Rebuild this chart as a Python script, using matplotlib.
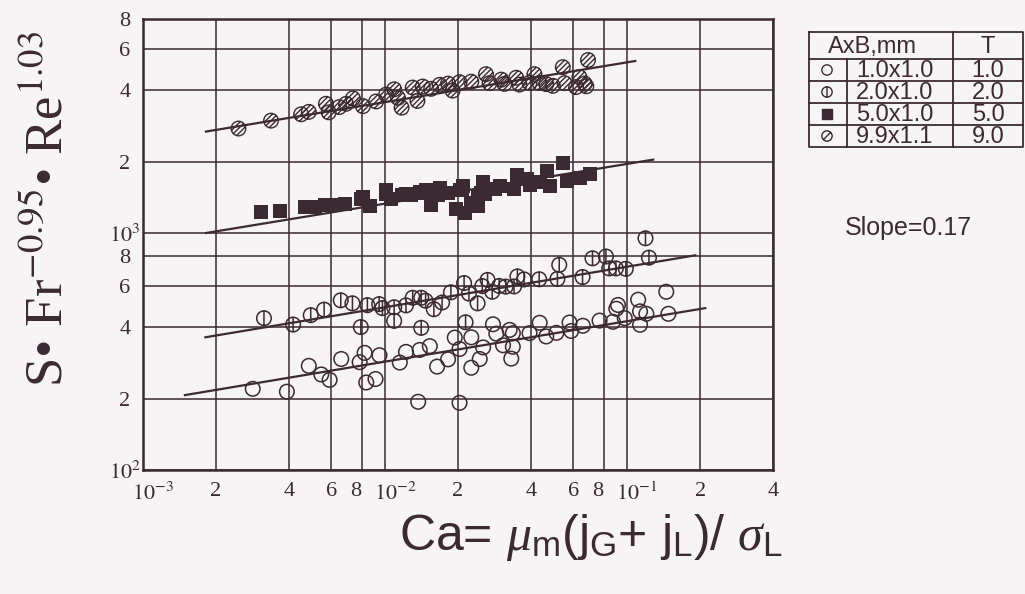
import matplotlib
matplotlib.use('Agg')
import matplotlib.pyplot as plt
from matplotlib.path import Path
from matplotlib.transforms import ScaledTranslation
from matplotlib.ticker import FixedLocator, FixedFormatter, NullLocator

plt.rcParams['font.family'] = ['Liberation Serif', 'DejaVu Serif']
plt.rcParams['mathtext.fontset'] = 'stix'
# used only by the x label (math_fontfamily='custom')
plt.rcParams['mathtext.rm'] = 'Liberation Sans'
plt.rcParams['mathtext.it'] = 'Liberation Serif:italic'

ink = '#3b2a31'
paper = '#f6f4f5'

# --- data --------------------------------------------------------------
# 1.0x1.0, open circles
x1 = [2.84e-3, 3.93e-3, 4.84e-3, 5.45e-3, 5.90e-3, 6.59e-3, 7.85e-3, 8.23e-3, 8.36e-3, 9.13e-3,
      9.48e-3, 1.15e-2, 1.22e-2, 1.37e-2, 1.39e-2, 1.53e-2, 1.64e-2, 1.82e-2, 1.94e-2, 2.03e-2,
      2.03e-2, 2.27e-2, 2.27e-2, 2.46e-2, 2.54e-2, 2.79e-2, 2.88e-2, 3.07e-2, 3.27e-2, 3.37e-2,
      3.32e-2, 3.37e-2, 3.95e-2, 4.35e-2, 4.63e-2, 5.10e-2, 5.78e-2, 5.87e-2, 6.56e-2, 7.69e-2,
      8.73e-2, 9.16e-2, 9.77e-2, 0.111, 0.113, 0.113, 0.145, 0.148, 0.120, 0.0902]
y1 = [220, 214, 275, 253, 240, 294, 285, 312, 234, 242,
      305, 284, 315, 194, 321, 333, 273, 293, 362, 324,
      192, 270, 363, 294, 329, 412, 376, 336, 390, 378,
      295, 331, 378, 418, 366, 379, 419, 386, 406, 427,
      422, 497, 437, 523, 467, 410, 565, 456, 456, 479]

# 2.0x1.0, circles with a vertical bar
x2 = [3.16e-3, 4.17e-3, 4.93e-3, 5.60e-3, 6.56e-3, 7.33e-3, 7.94e-3, 8.45e-3, 9.45e-3, 9.75e-3,
      1.09e-2, 1.09e-2, 1.22e-2, 1.30e-2, 1.41e-2, 1.47e-2, 1.59e-2, 1.72e-2, 1.87e-2, 2.12e-2,
      2.15e-2, 2.22e-2, 2.41e-2, 2.52e-2, 2.65e-2, 2.77e-2, 2.96e-2, 3.15e-2, 3.41e-2, 3.52e-2,
      3.75e-2, 4.33e-2, 5.15e-2, 5.24e-2, 6.54e-2, 7.19e-2, 8.17e-2, 8.43e-2, 8.98e-2, 9.87e-2,
      0.119, 0.123, 1.41e-2]
y2 = [437, 411, 450, 475, 520, 505, 401, 496, 501, 482,
      486, 426, 495, 533, 533, 518, 477, 509, 562, 615,
      420, 555, 505, 597, 634, 565, 598, 594, 595, 656,
      637, 638, 640, 734, 652, 782, 796, 709, 709, 706,
      950, 787, 398]

# 5.0x1.0, filled squares
x3 = [3.08e-3, 3.67e-3, 4.66e-3, 5.12e-3, 5.62e-3, 6.19e-3, 6.81e-3, 7.98e-3, 8.65e-3, 1.01e-2,
      1.06e-2, 1.17e-2, 1.28e-2, 1.46e-2, 1.55e-2, 1.66e-2, 1.82e-2, 2.07e-2, 2.13e-2, 2.27e-2,
      2.42e-2, 2.58e-2, 2.84e-2, 5.44e-2, 7.01e-2, 5.62e-2, 3.85e-2, 3.97e-2, 3.50e-2, 2.54e-2,
      2.10e-2, 1.68e-2, 1.48e-2, 1.22e-2, 1.01e-2, 8.09e-3, 4.36e-2, 6.41e-2, 2.48e-2, 2.99e-2,
      3.40e-2, 4.67e-2, 4.82e-2, 2.04e-2, 1.39e-2, 1.97e-2, 2.42e-2]
y3 = [1232, 1233, 1291, 1290, 1309, 1318, 1327, 1389, 1300, 1465,
      1393, 1442, 1443, 1471, 1312, 1447, 1476, 1524, 1214, 1340,
      1432, 1462, 1530, 1977, 1766, 1652, 1698, 1590, 1750, 1634,
      1580, 1549, 1521, 1468, 1514, 1415, 1648, 1706, 1482, 1585,
      1538, 1820, 1585, 1514, 1493, 1259, 1300]

# 9.9x1.1, hatched circles
x4 = [2.48e-3, 3.38e-3, 4.50e-3, 4.84e-3, 5.70e-3, 5.85e-3, 6.47e-3, 6.90e-3, 7.36e-3, 8.10e-3,
      9.18e-3, 1.01e-2, 1.09e-2, 1.13e-2, 1.17e-2, 1.30e-2, 1.36e-2, 1.43e-2, 1.55e-2, 1.68e-2,
      1.82e-2, 1.90e-2, 2.03e-2, 2.27e-2, 2.61e-2, 2.70e-2, 3.02e-2, 3.11e-2, 3.48e-2, 3.59e-2,
      3.95e-2, 4.14e-2, 4.34e-2, 4.63e-2, 4.93e-2, 5.42e-2, 5.51e-2, 6.15e-2, 6.35e-2, 6.67e-2,
      6.89e-2, 6.78e-2]
y4 = [2760, 2980, 3170, 3245, 3510, 3230, 3400, 3510, 3700, 3430,
      3590, 3840, 4040, 3720, 3380, 4110, 3610, 4150, 4060, 4220,
      4270, 3990, 4330, 4350, 4680, 4290, 4440, 4260, 4520, 4230,
      4300, 4680, 4300, 4250, 4180, 5010, 4290, 4130, 4550, 4270,
      5370, 4160]

# fitted lines (slope 0.17), end points
fit1_x, fit1_y = [1.49e-3, 0.21], [207, 482]
fit2_x, fit2_y = [1.81e-3, 0.191], [363, 805]
fit3_x, fit3_y = [1.82e-3, 0.128], [1000, 2040]
fit4_x, fit4_y = [1.82e-3, 0.108], [2680, 5320]

x_ticks = [1e-3, 2e-3, 4e-3, 6e-3, 8e-3, 1e-2, 2e-2, 4e-2, 6e-2, 8e-2, 1e-1, 2e-1, 4e-1]
x_labels = [r'$10^{-3}$', '2', '4', '6', '8', r'$10^{-2}$', '2', '4', '6', '8', r'$10^{-1}$', '2', '4']
y_ticks = [100, 200, 400, 600, 800, 1000, 2000, 4000, 6000, 8000]
y_labels = [r'$10^{2}$', '2', '4', '6', '8', r'$10^{3}$', '2', '4', '6', '8']

sizes = ['1.0x1.0', '2.0x1.0', '5.0x1.0', '9.9x1.1']
t_vals = ['1.0', '2.0', '5.0', '9.0']

# --- marker shapes ------------------------------------------------------
circle = Path.unit_circle()
def seg(a, b):
    return Path([a, b], [Path.MOVETO, Path.LINETO])
bar_marker = Path.make_compound_path(circle, seg([0, -1], [0, 1]))
slash_marker = Path.make_compound_path(circle, seg([-0.707, -0.707], [0.707, 0.707]))
hatch_marker = Path.make_compound_path(circle, seg([-0.707, -0.707], [0.707, 0.707]),
                                       seg([-0.966, -0.258], [0.258, 0.966]),
                                       seg([-0.258, -0.966], [0.966, 0.258]))

fig = plt.figure(figsize=(10.25, 5.94), dpi=100, facecolor=paper)
ax = fig.add_axes([0.1395, 0.2088, 0.6146, 0.7592], facecolor=paper)
ax.set_xscale('log')
ax.set_yscale('log')
ax.set_xlim(1e-3, 4e-1)
ax.set_ylim(100, 8000)

for fx, fy in [(fit1_x, fit1_y), (fit2_x, fit2_y), (fit3_x, fit3_y), (fit4_x, fit4_y)]:
    ax.plot(fx, fy, color=ink, lw=1.6, zorder=3)

ax.scatter(x1, y1, s=110, marker='o', facecolors='none', edgecolors=ink, linewidths=1.1, zorder=4)
ax.scatter(x2, y2, s=110, marker=bar_marker, facecolors='none', edgecolors=ink, linewidths=1.1, zorder=4)
ax.scatter(x3, y3, s=100, marker='s', color=ink, linewidths=0, zorder=4)
ax.scatter(x4, y4, s=110, marker=hatch_marker, facecolors='none', edgecolors=ink, linewidths=1.0, zorder=4)

ax.xaxis.set_major_locator(FixedLocator(x_ticks))
ax.xaxis.set_major_formatter(FixedFormatter(x_labels))
ax.xaxis.set_minor_locator(NullLocator())
ax.yaxis.set_major_locator(FixedLocator(y_ticks))
ax.yaxis.set_major_formatter(FixedFormatter(y_labels))
ax.yaxis.set_minor_locator(NullLocator())
ax.tick_params(length=0, labelsize=16, colors=ink)
ax.tick_params(axis='x', pad=9)
ax.tick_params(axis='y', pad=13)
for lab in ax.get_yticklabels():
    lab.set_horizontalalignment('center')
# decade labels: "10" sits on the line, exponent hangs right; the 8s lean left
for lab, txt in zip(ax.get_xticklabels(), x_labels):
    if txt.startswith('$'):
        lab.set_horizontalalignment('left')
        dx = -11
    elif txt == '8':
        dx = -6
    else:
        dx = 0
    lab.set_transform(lab.get_transform() + ScaledTranslation(dx / 100, 0, fig.dpi_scale_trans))
ax.grid(True, color=ink, lw=1.1)
ax.set_axisbelow(True)
for sp in ax.spines.values():
    sp.set_color(ink)
    sp.set_linewidth(1.8)

fig.text(0.047, 0.648, 'S\u2022 Fr$^{-0.95}$\u2022 Re$^{1.03}$', rotation=90, fontsize=38,
         ha='center', va='center', color=ink)
fig.text(0.576, 0.095, r'Ca= $\mu_{\mathrm{m}}$(j$_{\mathrm{G}}$+ j$_{\mathrm{L}}$)/ $\sigma_{\mathrm{L}}$',
         fontsize=36, family='Liberation Sans', math_fontfamily='custom',
         ha='center', va='center', color=ink)

fig.text(845 / 1025, 1 - 228 / 594, 'Slope=0.17', fontsize=18, family='Liberation Sans',
         ha='left', va='center', color=ink)

# legend table
lax = fig.add_axes([809 / 1025, 1 - 147 / 594, 214 / 1025, 115 / 594])
lax.set_xlim(809, 1023)
lax.set_ylim(147, 32)
lax.axis('off')
kw = dict(color=ink, lw=1.3, clip_on=False)
lax.plot([809, 1023, 1023, 809, 809], [32, 32, 147, 147, 32], **kw)
for yy in [59, 81, 103, 125]:
    lax.plot([809, 1023], [yy, yy], **kw)
lax.plot([953, 953], [32, 147], **kw)
lax.plot([847, 847], [59, 147], **kw)
tkw = dict(fontsize=17, family='Liberation Sans', ha='center', va='center', color=ink)
lax.text(872, 47, 'AxB,mm', **tkw)
lax.text(988, 47, 'T', **tkw)
row_markers = [('o', 'none'), (bar_marker, 'none'), ('s', ink), (slash_marker, 'none')]
for i, (mk, fc) in enumerate(row_markers):
    yc = 70 + 22 * i
    lax.scatter([827], [yc], s=55, marker=mk, facecolors=fc, edgecolors=ink, linewidths=1.0, clip_on=False)
    lax.text(895, yc + 1, sizes[i], **tkw)
    lax.text(988, yc + 1, t_vals[i], **tkw)

fig.savefig('out.png', dpi=100, facecolor=paper)
